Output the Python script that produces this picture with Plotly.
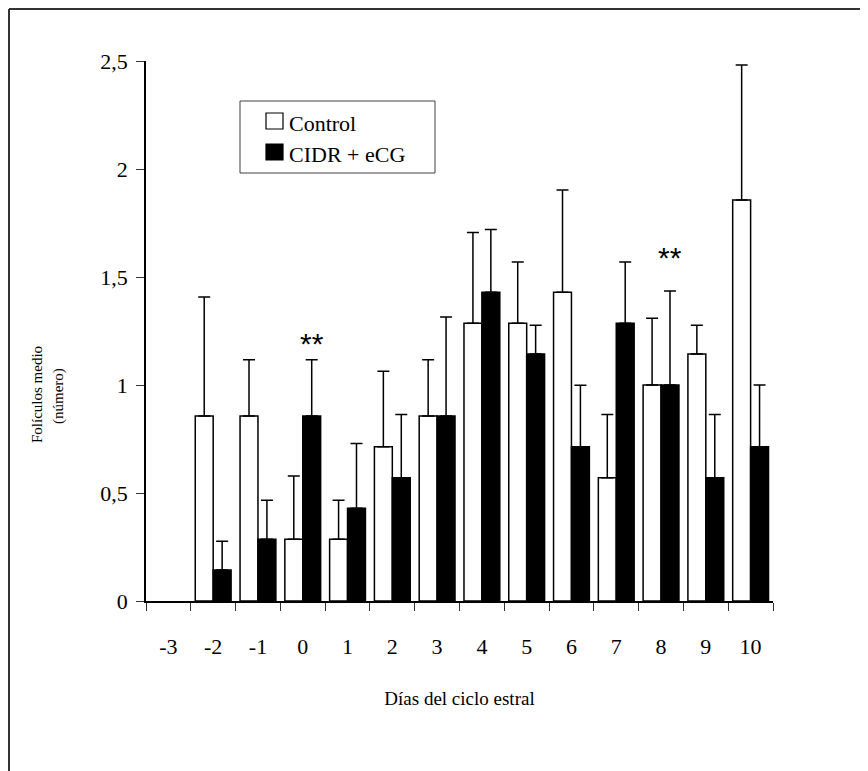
import plotly.graph_objects as go

days = ["-3", "-2", "-1", "0", "1", "2", "3", "4", "5", "6", "7", "8", "9", "10"]
control = [None, 0.857, 0.857, 0.286, 0.286, 0.714, 0.857, 1.286, 1.286, 1.429, 0.571, 1.0, 1.143, 1.857]
control_err = [None, 0.55, 0.26, 0.293, 0.18, 0.35, 0.26, 0.42, 0.283, 0.474, 0.292, 0.309, 0.134, 0.624]
cidr = [None, 0.143, 0.286, 0.857, 0.429, 0.571, 0.857, 1.429, 1.143, 0.714, 1.286, 1.0, 0.571, 0.714]
cidr_err = [None, 0.134, 0.18, 0.26, 0.3, 0.292, 0.458, 0.291, 0.134, 0.285, 0.283, 0.435, 0.292, 0.286]
yticks = [0, 0.5, 1, 1.5, 2, 2.5]
ytick_text = ["0", "0,5", "1", "1,5", "2", "2,5"]
signif_days = ["0", "8"]
signif_y = [1.19, 1.59]
series_names = ["Control", "CIDR + eCG"]
series_fill = ["white", "black"]

SERIF = "Liberation Serif"
OFF = 8  # page body margin
W, H = 868 - OFF, 771 - OFF
ML, MR, MT, MB = 146 - OFF, 95, 61 - OFF, 170
PW, PH = W - ML - MR, H - MT - MB


def px(X):  # reference page x -> paper
    return (X - OFF - ML) / PW


def py(Y):  # reference page y -> paper
    return (MT + PH + OFF - Y) / PH


fig = go.Figure()
err_style = dict(type="data", symmetric=False, color="black", thickness=1.5, width=6)
for name, vals, errs, fill in zip(series_names, [control, cidr], [control_err, cidr_err], series_fill):
    fig.add_trace(go.Bar(
        x=days, y=vals, name=name, showlegend=False,
        marker=dict(color=fill, line=dict(color="black", width=1.5)),
        error_y=dict(array=errs, arrayminus=[0] * len(days), **err_style),
    ))

for d, yv in zip(signif_days, signif_y):
    fig.add_annotation(x=days.index(d), y=yv, xref="x", yref="y", text="**", showarrow=False,
                       xshift=9, font=dict(family="Liberation Sans", size=30, color="black"))

# y-axis title (two lines)
fig.add_annotation(x=px(37), y=py(395), xref="paper", yref="paper", text="Folículos medio",
                   textangle=-90, showarrow=False, xanchor="center", yanchor="middle",
                   font=dict(family=SERIF, size=15, color="black"))
fig.add_annotation(x=px(58), y=py(396), xref="paper", yref="paper", text="(número)",
                   textangle=-90, showarrow=False, xanchor="center", yanchor="middle",
                   font=dict(family=SERIF, size=15, color="black"))

# legend (manual)
fig.add_shape(type="rect", xref="paper", yref="paper", x0=px(240), x1=px(435), y0=py(101), y1=py(173),
              line=dict(color="#404040", width=1), fillcolor="white", layer="above")
for i, (name, fill) in enumerate(zip(series_names, series_fill)):
    top = 113 + 31 * i
    fig.add_shape(type="rect", xref="paper", yref="paper", x0=px(266), x1=px(283),
                  y0=py(top), y1=py(top + 16), line=dict(color="black", width=1.2),
                  fillcolor=fill, layer="above")
    fig.add_annotation(x=px(287), y=py(top + 10), xref="paper", yref="paper", text=name,
                       xanchor="left", yanchor="middle", showarrow=False,
                       font=dict(family=SERIF, size=22, color="black"))

# page border (top and left)
fig.add_shape(type="line", xref="paper", yref="paper",
              x0=px(9), x1=px(870), y0=py(9), y1=py(9), line=dict(color="#333333", width=2))
fig.add_shape(type="line", xref="paper", yref="paper",
              x0=px(9), x1=px(9), y0=py(9), y1=py(775), line=dict(color="#333333", width=2))

fig.update_layout(
    width=W, height=H, margin=dict(l=ML, r=MR, t=MT, b=MB),
    paper_bgcolor="white", plot_bgcolor="white",
    barmode="group", bargap=0.2, bargroupgap=0, showlegend=False,
    font=dict(family=SERIF, size=22, color="black"),
    xaxis=dict(type="category", categoryorder="array", categoryarray=days,
               range=[-0.5, 13.5], showline=True, linecolor="black", linewidth=1.5,
               ticks="outside", tickson="boundaries", ticklen=8, tickcolor="#333333",
               tickwidth=1, showgrid=False, zeroline=False, ticklabelstandoff=25,
               tickfont=dict(family=SERIF, size=22),
               title=dict(text="Días del ciclo estral", standoff=34,
                          font=dict(family=SERIF, size=19))),
    yaxis=dict(range=[0, 2.5], tickvals=yticks, ticktext=ytick_text,
               showline=True, linecolor="black", linewidth=1.5,
               ticks="outside", ticklen=8, tickcolor="#333333", tickwidth=1,
               showgrid=False, zeroline=False, ticklabelstandoff=4,
               tickfont=dict(family=SERIF, size=22)),
)

fig.write_html("out.html")
